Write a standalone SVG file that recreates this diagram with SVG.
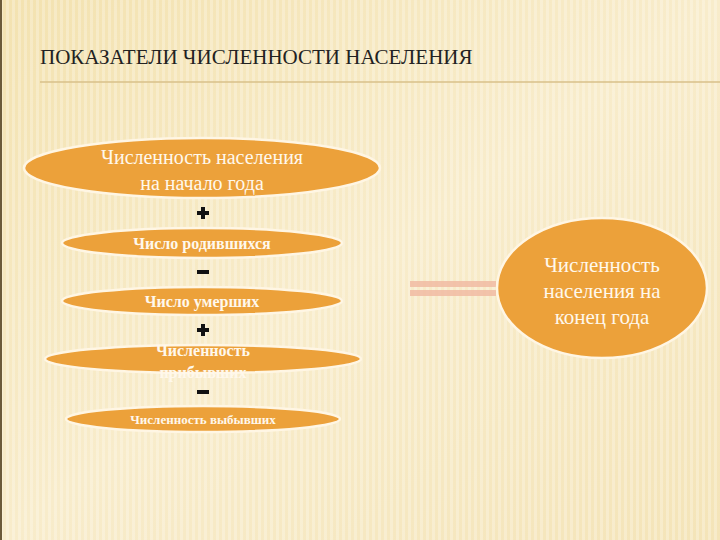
<svg xmlns="http://www.w3.org/2000/svg" width="720" height="540" viewBox="0 0 720 540">
<defs>
<linearGradient id="bg" x1="0" y1="0" x2="1" y2="1">
<stop offset="0" stop-color="#f3e2b0"/><stop offset="0.5" stop-color="#f8eccb"/><stop offset="1" stop-color="#f4e4b8"/>
</linearGradient>
<pattern id="st" width="6" height="10" patternUnits="userSpaceOnUse"><rect width="3" height="10" fill="#ffffff" opacity="0.25"/></pattern>
<style>
.f{font-family:"Liberation Serif","DejaVu Serif","Times New Roman",serif}
.n{fill:#eca13a;stroke:#fff6e4;stroke-width:2.5}
.t{fill:#fff8ec;text-anchor:middle}
.b{font-weight:bold}
.s{fill:#111}
</style>
</defs>
<rect width="720" height="540" fill="url(#bg)"/>
<rect width="720" height="540" fill="url(#st)"/>
<rect x="0" y="0" width="2" height="540" fill="#6b5a3a"/>
<text class="f" x="40" y="64" font-size="21" fill="#222">ПОКАЗАТЕЛИ ЧИСЛЕННОСТИ НАСЕЛЕНИЯ</text>
<line x1="40" y1="82" x2="720" y2="82" stroke="#d8c08a" stroke-width="1.5"/>
<g id="connectors">
<rect x="410" y="281" width="86" height="6" fill="#f0b8a0" opacity="0.8"/>
<rect x="410" y="290" width="86" height="6" fill="#f0b8a0" opacity="0.8"/>
<rect class="s" x="197" y="211" width="12" height="4"/><rect class="s" x="201" y="207" width="4" height="12"/>
<rect class="s" x="197" y="270" width="12" height="4"/>
<rect class="s" x="197" y="328" width="12" height="4"/><rect class="s" x="201" y="324" width="4" height="12"/>
<rect class="s" x="197" y="390" width="12" height="4"/>
</g>
<g id="n1"><ellipse class="n" cx="202" cy="168" rx="178" ry="30"/>
<text class="t f" x="202" y="164" font-size="20">Численность населения</text>
<text class="t f" x="202" y="190" font-size="20">на начало года</text></g>
<g id="n2"><ellipse class="n" cx="202" cy="243" rx="140" ry="15"/>
<text class="t f b" x="202" y="249" font-size="16">Число родившихся</text></g>
<g id="n3"><ellipse class="n" cx="202" cy="301" rx="140" ry="14"/>
<text class="t f b" x="202" y="307" font-size="16">Число умерших</text></g>
<g id="n4"><ellipse class="n" cx="203" cy="359" rx="158" ry="14"/>
<text class="t f b" x="203" y="356" font-size="16">Численность</text>
<text class="t f b" x="203" y="378" font-size="16">прибывших</text></g>
<g id="n5"><ellipse class="n" cx="203" cy="419" rx="137" ry="13"/>
<text class="t f b" x="203" y="424" font-size="13">Численность выбывших</text></g>
<g id="n6"><ellipse class="n" cx="602" cy="288" rx="105" ry="70"/>
<text class="t f" x="602" y="272" font-size="21">Численность</text>
<text class="t f" x="602" y="298" font-size="21">населения на</text>
<text class="t f" x="602" y="324" font-size="21">конец года</text></g>
</svg>
